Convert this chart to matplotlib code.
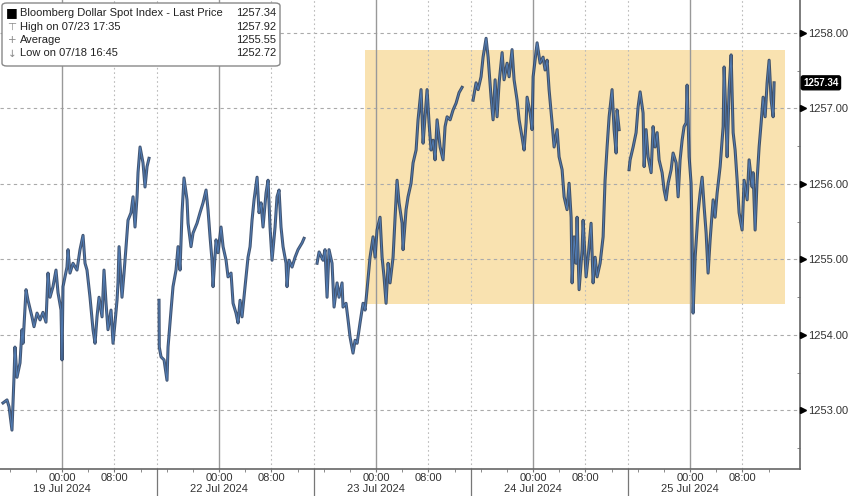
#!/usr/bin/env python3
"""Bloomberg Dollar Spot Index intraday, 19-25 Jul 2024."""

import matplotlib
matplotlib.use("Agg")
import matplotlib.pyplot as plt
import matplotlib.transforms as mtrans
from matplotlib.patches import Rectangle, FancyBboxPatch

# hours since 14:30 on 18 Jul, weekend removed; each session is 24h
S1_H = [0.46, 1.07, 1.38, 1.83, 2.14, 2.29, 2.60, 3.06, 3.36, 3.52, 3.98, 4.28, 4.89, 5.20,
        5.66, 6.12, 6.57, 7.03, 7.34, 7.65, 8.10, 8.56, 8.87, 9.33, 9.48, 9.63, 10.24, 10.40,
        10.70, 11.16, 11.77, 12.23, 12.69, 13.00, 13.30, 13.76, 14.22, 14.53, 14.83, 15.14,
        15.60, 15.90, 16.21, 16.51, 16.97, 17.28, 17.58, 17.89, 18.04, 18.20, 18.65, 18.96,
        19.27, 19.57, 20.03, 20.34, 20.64, 20.95, 21.10, 21.41, 21.86, 22.17, 22.48, 22.78]
S1_P = [1253.10, 1253.14, 1253.05, 1252.74, 1253.44, 1253.84, 1253.44, 1253.63, 1254.07,
        1253.89, 1254.60, 1254.46, 1254.24, 1254.11, 1254.29, 1254.20, 1254.30, 1254.17,
        1254.82, 1254.50, 1254.64, 1254.86, 1254.56, 1254.33, 1253.67, 1254.64, 1254.90,
        1255.13, 1254.82, 1254.95, 1254.86, 1255.13, 1255.32, 1254.95, 1254.86, 1254.50,
        1254.07, 1253.89, 1254.24, 1254.50, 1254.24, 1254.86, 1254.42, 1254.07, 1254.33,
        1253.89, 1254.16, 1254.46, 1254.69, 1255.17, 1254.50, 1254.82, 1255.17, 1255.52,
        1255.62, 1255.83, 1255.43, 1255.83, 1256.15, 1256.49, 1256.28, 1255.96, 1256.23,
        1256.34]

S2_H = [24.31, 24.35, 24.62, 25.08, 25.53, 25.69, 26.15, 26.45, 26.91, 27.22, 27.52, 27.83,
        28.13, 28.59, 28.75, 29.20, 29.51, 30.12, 30.58, 31.04, 31.50, 31.80, 32.11, 32.41,
        32.57, 33.03, 33.33, 33.79, 34.10, 34.56, 34.86, 35.32, 35.63, 36.08, 36.39, 36.70,
        37.00, 37.46, 37.92, 38.23, 38.53, 38.84, 39.30, 39.60, 39.91, 40.21, 40.67, 40.98,
        41.28, 41.59, 42.05, 42.35, 42.66, 42.96, 43.27, 43.73, 43.88, 44.19, 44.65, 45.11,
        45.56, 46.18, 46.48]
S2_P = [1254.46, 1253.84, 1253.71, 1253.67, 1253.40, 1253.84, 1254.33, 1254.64, 1254.86,
        1255.17, 1254.86, 1255.62, 1256.08, 1255.79, 1255.48, 1255.17, 1255.35, 1255.48,
        1255.62, 1255.75, 1255.92, 1255.66, 1255.30, 1254.99, 1254.64, 1255.26, 1255.09,
        1255.43, 1255.17, 1254.99, 1254.77, 1254.82, 1254.42, 1254.29, 1254.16, 1254.46,
        1254.24, 1254.64, 1255.03, 1255.17, 1255.52, 1255.79, 1256.09, 1255.62, 1255.75,
        1255.43, 1255.88, 1256.05, 1255.43, 1254.99, 1255.43, 1255.83, 1255.92, 1255.43,
        1255.17, 1254.95, 1254.64, 1254.99, 1254.90, 1255.03, 1255.13, 1255.22, 1255.28]

S3_H = [48.47, 48.78, 49.39, 49.69, 50.00, 50.30, 50.76, 51.07, 51.53, 51.83, 52.29, 52.44,
        52.90, 53.21, 53.52, 53.97, 54.28, 54.59, 55.04, 55.50, 55.81, 56.11, 56.57, 57.03,
        57.34, 57.64, 58.10, 58.41, 58.71, 59.02, 59.33, 59.63, 60.09, 60.40, 60.70, 61.01,
        61.47, 61.62, 62.08, 62.38, 62.84, 63.15, 63.61, 63.91, 64.37, 64.68, 64.98, 65.29,
        65.59, 65.90, 66.21, 66.51, 66.82, 67.28, 67.73, 68.04, 68.35, 68.81, 69.26, 69.72,
        70.18, 70.64]
S3_P = [1254.95, 1255.10, 1254.99, 1255.13, 1254.50, 1255.13, 1254.95, 1254.37, 1254.69,
        1254.50, 1254.69, 1254.37, 1254.42, 1254.20, 1253.97, 1253.76, 1253.93, 1253.89,
        1254.16, 1254.42, 1254.33, 1254.60, 1255.03, 1255.30, 1255.03, 1255.39, 1255.56,
        1255.03, 1254.77, 1254.42, 1254.95, 1254.69, 1255.03, 1255.56, 1256.05, 1255.75,
        1255.48, 1255.13, 1255.66, 1255.83, 1256.01, 1256.28, 1256.45, 1256.85, 1257.25,
        1256.54, 1256.89, 1257.25, 1256.81, 1256.45, 1256.58, 1256.32, 1256.85, 1256.49,
        1256.32, 1256.76, 1256.89, 1256.85, 1256.98, 1257.07, 1257.21, 1257.28]

S4_H = [72.32, 72.78, 73.09, 73.54, 73.85, 74.31, 74.62, 75.07, 75.38, 75.69, 75.99, 76.30,
        76.76, 77.06, 77.52, 77.83, 78.28, 78.59, 79.05, 79.36, 79.81, 80.12, 80.43, 80.58,
        81.04, 81.34, 81.50, 81.80, 82.11, 82.57, 83.02, 83.33, 83.64, 83.94, 84.40, 84.71,
        85.17, 85.47, 85.93, 86.24, 86.69, 87.00, 87.31, 87.46, 87.76, 88.07, 88.22, 88.53,
        88.99, 89.14, 89.60, 89.91, 90.36, 90.67, 90.98, 91.28, 91.74, 92.20, 92.50, 92.81,
        93.12, 93.57, 93.88, 94.19, 94.34, 94.65]
S4_P = [1257.11, 1257.34, 1257.25, 1257.42, 1257.68, 1257.93, 1257.68, 1257.15, 1256.85,
        1257.38, 1256.89, 1257.34, 1257.74, 1257.38, 1257.60, 1257.42, 1257.78, 1257.38,
        1257.11, 1256.85, 1256.62, 1256.45, 1256.81, 1257.15, 1256.94, 1256.72, 1257.42,
        1257.64, 1257.87, 1257.60, 1257.68, 1257.51, 1257.64, 1257.25, 1256.81, 1256.49,
        1256.72, 1256.36, 1256.19, 1255.83, 1255.66, 1256.01, 1255.56, 1254.69, 1255.30,
        1254.95, 1255.56, 1254.60, 1255.13, 1255.52, 1254.77, 1255.03, 1255.48, 1254.69,
        1255.03, 1254.77, 1254.95, 1255.30, 1256.05, 1256.49, 1256.89, 1257.25, 1256.72,
        1256.41, 1256.98, 1256.72]

S5_H = [96.17, 96.33, 96.79, 97.24, 97.55, 97.86, 98.31, 98.47, 98.77, 99.08, 99.54, 99.84,
        100.15, 100.46, 100.76, 101.22, 101.53, 101.83, 102.14, 102.60, 102.90, 103.36,
        103.67, 103.97, 104.28, 104.58, 104.89, 105.04, 105.35, 105.65, 105.81, 105.96,
        106.27, 106.72, 107.03, 107.34, 107.64, 107.95, 108.25, 108.56, 109.02, 109.32,
        109.63, 110.09, 110.55, 110.70, 111.01, 111.16, 111.46, 111.77, 112.08, 112.38,
        112.69, 112.99, 113.45, 113.76, 114.22, 114.52, 114.98, 115.13, 115.44, 115.74,
        116.05, 116.36, 116.66, 116.97, 117.27, 117.58, 117.89, 118.19, 118.34]
S5_P = [1256.19, 1256.32, 1256.49, 1256.68, 1257.02, 1257.22, 1256.94, 1256.23, 1256.72,
        1256.36, 1256.15, 1256.76, 1256.49, 1256.68, 1256.32, 1256.15, 1255.92, 1255.79,
        1256.01, 1256.19, 1256.41, 1256.28, 1255.83, 1256.32, 1256.58, 1256.76, 1256.81,
        1257.31, 1256.36, 1256.01, 1255.26, 1254.29, 1255.03, 1255.62, 1255.88, 1256.09,
        1255.70, 1255.35, 1254.82, 1255.26, 1255.79, 1255.56, 1255.88, 1256.23, 1256.76,
        1257.55, 1256.81, 1256.36, 1257.25, 1257.71, 1256.68, 1256.45, 1256.05, 1255.62,
        1255.39, 1256.05, 1255.79, 1256.32, 1255.96, 1256.15, 1255.39, 1256.05, 1256.49,
        1256.81, 1257.15, 1256.89, 1257.34, 1257.64, 1257.11, 1256.89, 1257.34]

SESSIONS = [(S1_H, S1_P), (S2_H, S2_P), (S3_H, S3_P), (S4_H, S4_P), (S5_H, S5_P)]
DATES = ["19 Jul 2024", "22 Jul 2024", "23 Jul 2024", "24 Jul 2024", "25 Jul 2024"]

LEGEND_ROWS = [("Bloomberg Dollar Spot Index - Last Price", "1257.34"),
               ("High on 07/23 17:35", "1257.92"),
               ("Average", "1255.55"),
               ("Low on 07/18 16:45", "1252.72")]
LAST_PRICE = 1257.34
BOX_X = (55.8, 120.0)
BOX_Y = (1254.41, 1257.77)

plt.rcParams["font.family"] = ["Liberation Sans", "DejaVu Sans"]

fig = plt.figure(figsize=(8.48, 4.96), dpi=100)
ax = fig.add_axes([0.0, 1 - 469 / 496, 800 / 848, 469 / 496])
ax.set_xlim(0, 122.3)
ax.set_ylim(1252.225, 1258.437)

# highlighted window
ax.add_patch(Rectangle((BOX_X[0], BOX_Y[0]), BOX_X[1] - BOX_X[0], BOX_Y[1] - BOX_Y[0],
                       facecolor="#f9e2b0", edgecolor="none", zorder=0))

# grid
for v in range(1253, 1259):
    ax.axhline(v, color="#aaaaaa", lw=0.8, ls=(0, (3, 3)), zorder=1)
for k in range(5):
    ax.axvline(24 * k + 9.5, color="#999999", lw=1.0, zorder=1)
    ax.axvline(24 * k + 17.5, color="#bbbbbb", lw=0.8, ls=(0, (1.5, 2.5)), zorder=1)
    if k > 0:
        ax.axvline(24 * k, color="#bbbbbb", lw=0.8, ls=(0, (1.5, 2.5)), zorder=1)
        ax.axvline(24 * k, ymin=-0.07, ymax=0, color="#777777", lw=0.9, clip_on=False)

for h, p in SESSIONS:
    ax.plot(h, p, color="#22385a", lw=2.2, alpha=0.85, zorder=3)
    ax.plot(h, p, color="#5486c6", lw=0.7, alpha=0.8, zorder=4)

# spines
for s in ["top", "left"]:
    ax.spines[s].set_visible(False)
for s in ["right", "bottom"]:
    ax.spines[s].set_color("#666666")
    ax.spines[s].set_linewidth(1.2)

# x ticks
xt, xl = [], []
for k, d in enumerate(DATES):
    xt += [24 * k + 9.5, 24 * k + 17.5]
    xl += [f"00:00\n{d}", "08:00"]
ax.set_xticks(xt)
ax.set_xticklabels(xl, fontsize=8, color="#333333", linespacing=1.1)
ax.set_xticks([24 * k + 4 * j + 1.5 for k in range(5) for j in range(6)], minor=True)
ax.tick_params(axis="x", which="major", length=2, color="#777777", pad=1)
ax.tick_params(axis="x", which="minor", length=2, color="#777777")

# y ticks on the right
ax.yaxis.tick_right()
ax.set_yticks(range(1253, 1259))
ax.set_yticklabels([f"{v}.00" for v in range(1253, 1259)], fontsize=8, color="#333333")
ax.set_yticks([v + 0.5 for v in range(1252, 1258)], minor=True)
ax.tick_params(axis="y", which="major", length=0, pad=6)
ax.tick_params(axis="y", which="minor", length=2, color="#777777", direction="in")
tr = mtrans.blended_transform_factory(ax.transAxes, ax.transData)
ax.plot([1.004] * 6, range(1253, 1259), ls="none", marker=">", ms=4, color="black",
        transform=tr, clip_on=False, zorder=5)

ax.text(1.004, LAST_PRICE, f"{LAST_PRICE:.2f}", transform=tr, fontsize=7, color="white",
        va="center", ha="left", fontweight="bold",
        bbox=dict(boxstyle="round,pad=0.2", fc="black", ec="black"), clip_on=False, zorder=6)

# legend box
lx0, ly0 = 2 / 800, 1 - 66 / 469
ax.add_patch(FancyBboxPatch((lx0, ly0), 278 / 800, 63 / 469, transform=ax.transAxes,
                            boxstyle="round,pad=0,rounding_size=0.006", fc="white",
                            ec="#888888", lw=1.0, zorder=7))
icons = ["■", "⊤", "+", "↓"]
for i, (lab, val) in enumerate(LEGEND_ROWS):
    y = 1 - (13 + 13.5 * i) / 469
    ax.text(12 / 800, y, icons[i], transform=ax.transAxes, fontsize=7.5 if i else 9,
            color="black" if i == 0 else "#888888", va="center", ha="center", zorder=8,
            family=["DejaVu Sans"])
    ax.text(20 / 800, y, lab, transform=ax.transAxes, fontsize=8, color="#222222",
            va="center", ha="left", zorder=8)
    ax.text(276 / 800, y, val, transform=ax.transAxes, fontsize=8, color="#222222",
            va="center", ha="right", zorder=8)

fig.savefig("out.png", dpi=100)
